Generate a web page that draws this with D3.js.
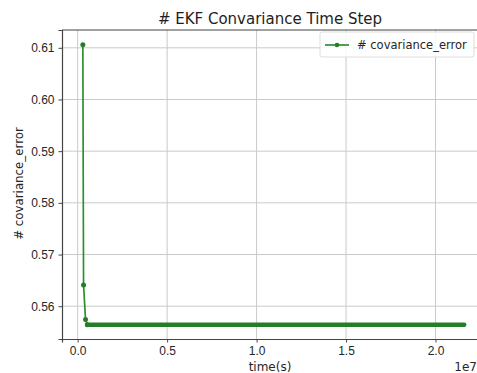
<!DOCTYPE html>
<html>
<head>
<meta charset="utf-8">
<script src="https://cdn.jsdelivr.net/npm/d3@7"></script>
<style>
  body { margin: 0; background: #fff; }
  svg { display: block; font-family: "DejaVu Sans", sans-serif; }
</style>
</head>
<body>
<div id="chart"></div>
<script>
// visible samples (time in seconds, covariance error)
const times  = [2.9e5, 3.3e5, 4.4e5, 5.4e5, 2.16e7];
const errors = [0.6106, 0.5641, 0.5574, 0.5564, 0.5564];
// from index 3 on the samples are so dense their markers merge into a band
const denseFrom = 3;

const xTicks = [0, 0.5e7, 1.0e7, 1.5e7, 2.0e7];
const yTicks = [0.56, 0.57, 0.58, 0.59, 0.60, 0.61];

const W = 477, H = 373;
const margin = { top: 30, right: -1, bottom: 34, left: 62 };
const width = W - margin.left - margin.right;
const height = H - margin.top - margin.bottom;

const svg = d3.select("#chart").append("svg")
    .attr("width", W).attr("height", H);

const g = svg.append("g")
    .attr("transform", `translate(${margin.left},${margin.top})`);

const x = d3.scaleLinear().domain([-0.0875e7, 2.2375e7]).range([0, width]);
const y = d3.scaleLinear().domain([0.55365, 0.61345]).range([height, 0]);

// grid
g.append("g").selectAll("line").data(xTicks).enter().append("line")
    .attr("x1", d => x(d)).attr("x2", d => x(d))
    .attr("y1", 0).attr("y2", height)
    .attr("stroke", "#cacaca").attr("stroke-width", 1);
g.append("g").selectAll("line").data(yTicks).enter().append("line")
    .attr("x1", 0).attr("x2", width)
    .attr("y1", d => y(d)).attr("y2", d => y(d))
    .attr("stroke", "#cacaca").attr("stroke-width", 1);

const data = times.map((t, i) => ({ t, v: errors[i] }));
const color = "#2f8f2f";

const line = d3.line().x(d => x(d.t)).y(d => y(d.v));

g.append("path").datum(data)
    .attr("d", line)
    .attr("fill", "none")
    .attr("stroke", color)
    .attr("stroke-width", 1.7);

// dense run of markers
g.append("path").datum(data.slice(denseFrom))
    .attr("d", line)
    .attr("fill", "none")
    .attr("stroke", "#237f27")
    .attr("stroke-width", 4.6)
    .attr("stroke-linecap", "round");

g.selectAll("circle.pt").data(data.slice(0, denseFrom + 1)).enter().append("circle")
    .attr("class", "pt")
    .attr("cx", d => x(d.t)).attr("cy", d => y(d.v))
    .attr("r", 2.5)
    .attr("fill", "#237f27");

// axes
const xAxis = g.append("g")
    .attr("transform", `translate(0,${height})`)
    .call(d3.axisBottom(x).tickValues(xTicks).tickFormat(d => (d / 1e7).toFixed(1)).tickSize(3.5).tickPadding(4));
const yAxis = g.append("g")
    .call(d3.axisLeft(y).tickValues(yTicks).tickFormat(d3.format(".2f")).tickSize(3.5).tickPadding(4));
[xAxis, yAxis].forEach(a => {
    a.select(".domain").attr("stroke", "#444").attr("stroke-width", 1.2);
    a.selectAll(".tick line").attr("stroke", "#444");
    a.selectAll(".tick text").attr("fill", "#262626").style("font-size", "12px");
});
g.append("line").attr("x1", 0).attr("x2", width).attr("y1", 0).attr("y2", 0)
    .attr("stroke", "#444").attr("stroke-width", 1.2);

// title and labels
svg.append("text")
    .attr("x", margin.left + width / 2).attr("y", 24)
    .attr("text-anchor", "middle")
    .style("font-size", "15px").attr("fill", "#1e1e1e")
    .text("# EKF Convariance Time Step");

svg.append("text")
    .attr("transform", `translate(23,${margin.top + height / 2 - 1}) rotate(-90)`)
    .attr("text-anchor", "middle")
    .style("font-size", "11.8px").attr("fill", "#262626")
    .text("# covariance_error");

svg.append("text")
    .attr("x", margin.left + width / 2).attr("y", 371)
    .attr("text-anchor", "middle")
    .style("font-size", "12px").attr("fill", "#262626")
    .text("time(s)");

svg.append("text")
    .attr("x", 477).attr("y", 371)
    .attr("text-anchor", "end")
    .style("font-size", "12px").attr("fill", "#262626")
    .text("1e7");

// legend
const lg = svg.append("g").attr("transform", "translate(320,32)");
lg.append("rect")
    .attr("width", 154).attr("height", 25).attr("rx", 2)
    .attr("fill", "#fff").attr("fill-opacity", 0.85)
    .attr("stroke", "#ddd");
lg.append("line").attr("x1", 5).attr("x2", 29).attr("y1", 13).attr("y2", 13)
    .attr("stroke", color).attr("stroke-width", 1.7);
lg.append("circle").attr("cx", 17).attr("cy", 13).attr("r", 2.3).attr("fill", "#237f27");
lg.append("text").attr("x", 37).attr("y", 17)
    .style("font-size", "11.5px").attr("fill", "#262626")
    .text("# covariance_error");
</script>
</body>
</html>
